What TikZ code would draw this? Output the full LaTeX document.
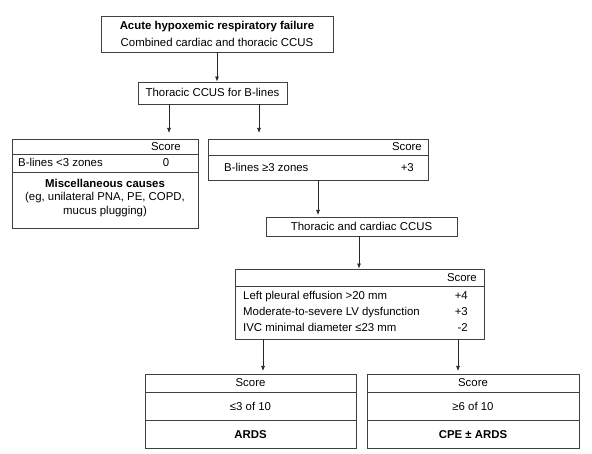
\documentclass[tikz,border=0pt]{standalone}
\usepackage{fontspec}
\setmainfont{Liberation Sans}
\usetikzlibrary{arrows.meta}
\begin{document}
\begin{tikzpicture}[x=1pt,y=-1pt,
  frame/.style={draw=black!75, line width=0.9pt, inner sep=0pt},
  txt/.style={inner sep=0pt, font=\fontsize{11.4}{16}\selectfont},
  txtb/.style={inner sep=0pt, font=\fontsize{11.4}{16}\selectfont\bfseries},
  arr/.style={draw=black!85, line width=0.7pt, -{Latex[length=5pt,width=4pt]}}]
\useasboundingbox[fill=white] (0,0) rectangle (592,454);

% top box
\node[frame, minimum width=232pt, minimum height=36pt] (top) at (217,34) {};
\node[txtb, anchor=base] (t1) at (217,30) {Acute hypoxemic respiratory failure};
\node[txt, anchor=base] (t2) at (217,47) {Combined cardiac and thoracic CCUS};

% thoracic CCUS
\node[frame, minimum width=149pt, minimum height=22pt] (thor) at (212.5,93) {};
\node[txt, anchor=base] (thortxt) at (212.5,97) {Thoracic CCUS for B-lines};

% left box
\node[frame, minimum width=186pt, minimum height=15pt] (lh) at (105,146.5) {};
\node[frame, minimum width=186pt, minimum height=18pt] (lr) at (105,163) {};
\node[frame, minimum width=186pt, minimum height=56pt] (lm) at (105,200) {};
\node[txt, anchor=base east] (lhs) at (181,150.5) {Score};
\node[txt, anchor=base west] (lrt) at (18,167) {B-lines <3 zones};
\node[txt, anchor=base] (lrv) at (166,167) {0};
\node[txtb, anchor=base] (lm1) at (105,188) {Miscellaneous causes};
\node[txt, anchor=base] (lm2) at (105,201) {(eg, unilateral PNA, PE, COPD,};
\node[txt, anchor=base] (lm3) at (105,215) {mucus plugging)};

% right box
\node[frame, minimum width=220pt, minimum height=16pt] (rh) at (318,147) {};
\node[frame, minimum width=220pt, minimum height=25pt] (rr) at (318,167.5) {};
\node[txt, anchor=base east] (rhs) at (422,151) {Score};
\node[txt, anchor=base west] (rrt) at (224,172) {B-lines \char"2265 3 zones};
\node[txt, anchor=base east] (rrv) at (414,172) {+3};

% thoracic and cardiac CCUS
\node[frame, minimum width=191pt, minimum height=19pt] (tc) at (361.5,226.5) {};
\node[txt, anchor=base] (tctxt) at (361.5,230.5) {Thoracic and cardiac CCUS};

% score box
\node[frame, minimum width=249pt, minimum height=17pt] (sh) at (359.5,277.5) {};
\node[frame, minimum width=249pt, minimum height=53pt] (sb) at (359.5,312.5) {};
\node[txt, anchor=base east] (shs) at (477,281.5) {Score};
\node[txt, anchor=base west] (s1) at (243,300) {Left pleural effusion >20 mm};
\node[txt, anchor=base west] (s2) at (243,316) {Moderate-to-severe LV dysfunction};
\node[txt, anchor=base west] (s3) at (243,332) {IVC minimal diameter \char"2264 23 mm};
\node[txt, anchor=base east] (v1) at (468,300) {+4};
\node[txt, anchor=base east] (v2) at (468,316) {+3};
\node[txt, anchor=base east] (v3) at (468,332) {-2};

% bottom left
\node[frame, minimum width=211pt, minimum height=18pt] (bl1) at (250.5,383) {};
\node[frame, minimum width=211pt, minimum height=28pt] (bl2) at (250.5,406) {};
\node[frame, minimum width=211pt, minimum height=28pt] (bl3) at (250.5,434) {};
\node[txt, anchor=base] (bl1t) at (250.5,387) {Score};
\node[txt, anchor=base] (bl2t) at (250.5,410) {\char"2264 3 of 10};
\node[txtb, anchor=base] (bl3t) at (250.5,438) {ARDS};

% bottom right
\node[frame, minimum width=212pt, minimum height=18pt] (br1) at (473,383) {};
\node[frame, minimum width=212pt, minimum height=28pt] (br2) at (473,406) {};
\node[frame, minimum width=212pt, minimum height=28pt] (br3) at (473,434) {};
\node[txt, anchor=base] (br1t) at (473,387) {Score};
\node[txt, anchor=base] (br2t) at (473,410) {\char"2265 6 of 10};
\node[txtb, anchor=base] (br3t) at (473,438) {CPE \char"00B1{} ARDS};

% arrow end points
\coordinate (a1) at (169,133);
\coordinate (a2) at (259,133);
\coordinate (a3) at (318,215);
\coordinate (a4) at (359,0);
\coordinate (a5) at (263,371);
\coordinate (a6) at (458,371);

% connectors
\draw[arr] (top.south) -- (top.south |- thor.north);
\draw[arr] (a1 |- thor.south) -- (a1);
\draw[arr] (a2 |- thor.south) -- (a2);
\draw[arr] (rr.south) -- (a3);
\draw[arr] (a4 |- tc.south) -- (a4 |- sh.north);
\draw[arr] (a5 |- sb.south) -- (a5);
\draw[arr] (a6 |- sb.south) -- (a6);
\end{tikzpicture}
\end{document}
